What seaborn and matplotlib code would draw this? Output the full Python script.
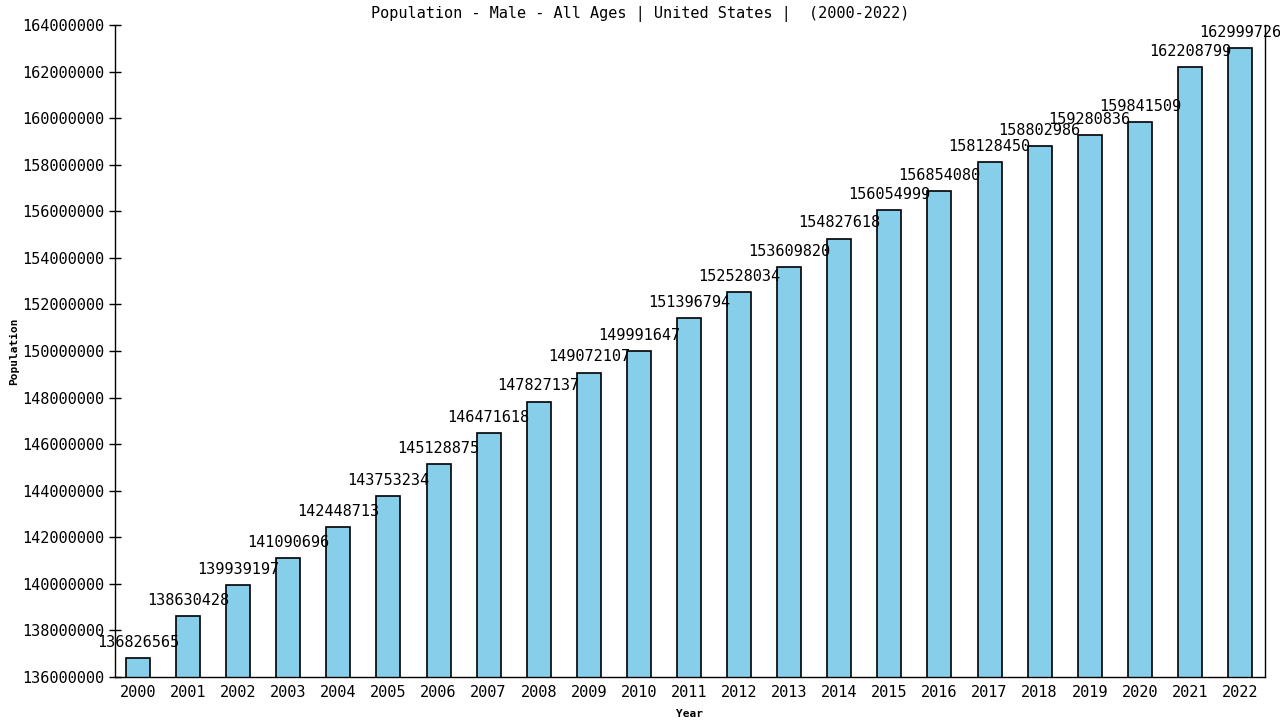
import pandas as pd
import matplotlib
matplotlib.use('Agg')
import matplotlib.pyplot as plt
import seaborn as sns

years = [str(y) for y in range(2000, 2023)]
population = [136826565, 138630428, 139939197, 141090696, 142448713, 143753234,
              145128875, 146471618, 147827137, 149072107, 149991647, 151396794,
              152528034, 153609820, 154827618, 156054999, 156854080, 158128450,
              158802986, 159280836, 159841509, 162208799, 162999726]
y_ticks = list(range(136000000, 164000001, 2000000))

df = pd.DataFrame({'Year': years, 'Population': population})

sns.set_style('white')
plt.rcParams['font.family'] = ['DejaVu Sans Mono', 'DejaVu Sans']
plt.rcParams['text.color'] = 'black'
plt.rcParams['axes.labelcolor'] = 'black'
plt.rcParams['xtick.color'] = 'black'
plt.rcParams['ytick.color'] = 'black'

fig = plt.figure(figsize=(12.8, 7.2), dpi=100)
ax = fig.add_axes([0.0898, 0.0597, 0.8985, 0.9056])

sns.barplot(data=df, x='Year', y='Population', color='#87CEEB',
            edgecolor='black', linewidth=1.2, width=0.48, saturation=1, ax=ax)

# value labels above bars
for i, v in enumerate(population):
    ax.text(i, v + 350000, str(v), ha='center', va='bottom', fontsize=11,
            color='black', fontweight='medium')

ax.set_ylim(136000000, 164000000)
ax.set_xlim(-0.46, 22.5)
ax.set_yticks(y_ticks)
ax.set_yticklabels([str(t) for t in y_ticks], fontsize=11)
ax.tick_params(axis='x', labelsize=11, length=0, pad=6)
ax.tick_params(axis='y', direction='inout', length=8, width=1, left=True)

for s in ['left', 'right', 'bottom']:
    ax.spines[s].set_visible(True)
    ax.spines[s].set_color('black')
    ax.spines[s].set_linewidth(1)
ax.spines['top'].set_visible(False)

ax.set_xlabel('Year', fontsize=8, fontweight='bold', labelpad=6)
ax.set_ylabel('Population', fontsize=8, fontweight='bold')
ax.yaxis.set_label_coords(-0.083, 0.5)
fig.text(0.5, 0.981, 'Population - Male - All Ages | United States |  (2000-2022)',
         ha='center', va='center', fontsize=11)

fig.savefig('out.png', dpi=100)
